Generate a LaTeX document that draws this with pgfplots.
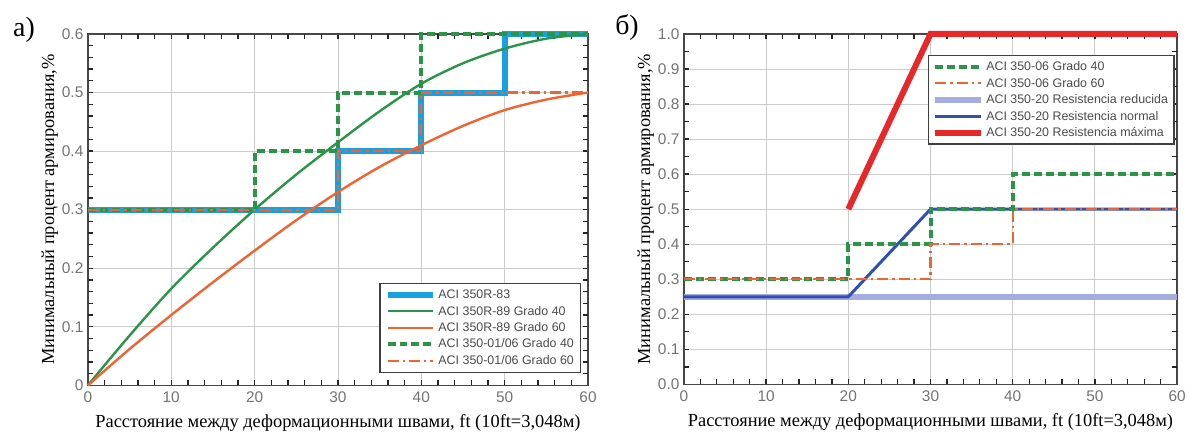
\documentclass[border=0pt]{standalone}
\usepackage{fontspec}
\setmainfont{Liberation Serif}
\newfontfamily\arial{Liberation Sans}
\usepackage{pgfplots}
\pgfplotsset{compat=1.18}
\definecolor{aciblue}{RGB}{25,160,225}
\definecolor{agreen}{RGB}{40,150,70}
\definecolor{aorange}{RGB}{240,100,50}
\definecolor{alav}{RGB}{165,172,225}
\definecolor{anavy}{RGB}{50,80,180}
\definecolor{ared}{RGB}{232,40,40}
\pgfplotsset{
  common/.style={
    scale only axis, clip=false,
    xmin=0, xmax=60,
    xtick={0,10,20,30,40,50,60},
    xticklabels={0,10,20,30,40,50,60},
    extra x ticks={2,4,6,8,12,14,16,18,22,24,26,28,32,34,36,38,42,44,46,48,52,54,56,58},
    extra x tick labels={},
    extra tick style={grid=none, major tick length=5.5bp, tick style={black!85, line width=1.3bp}},
    xmajorgrids, ymajorgrids,
    major grid style={black!20, line width=0.9bp},
    axis line style={black!72, line width=1.6bp},
    tick style={black!85, line width=1.3bp},
    major tick length=5.5bp,
    tick align=inside,
    /pgf/number format/assume math mode=true,
    ticklabel style={font=\arial\fontsize{15.5}{15.5}\selectfont, text=black!55},
    xticklabel style={yshift=-3bp},
    yticklabel style={xshift=-1bp},
    label style={font=\fontsize{18.5}{18.5}\selectfont},
    xlabel={Расстояние между деформационными швами, ft (10ft=3,048м)},
    ylabel={Минимальный процент армирования,\%},
    xlabel style={yshift=-5bp},
    ylabel style={yshift=-3bp},
    legend cell align=left,
    legend image code/.code={\draw[##1] (0bp,0bp) -- (46bp,0bp);},
  },
  stepG/.style={agreen, line width=4bp, dash pattern=on 8bp off 4bp},
  stepO/.style={aorange, line width=2.2bp, dash pattern=on 11bp off 4bp on 2.5bp off 4bp},
}
\begin{document}
\begin{tikzpicture}
\path (0,0) rectangle (1189bp,434bp);
\node[font=\fontsize{28}{28}\selectfont] at (24bp,404bp) {а)};
\node[font=\fontsize{28}{28}\selectfont] at (628bp,406bp) {б)};
% ---------- left ----------
\begin{axis}[common,
  at={(88bp,48bp)}, anchor=south west,
  width=501bp, height=352bp,
  ymin=0, ymax=0.6,
  ytick={0,0.1,0.2,0.3,0.4,0.5,0.6},
  yticklabels={0,0.1,0.2,0.3,0.4,0.5,0.6},
  extra y ticks={0.02,0.04,0.06,0.08,0.12,0.14,0.16,0.18,0.22,0.24,0.26,0.28,0.32,0.34,0.36,0.38,0.42,0.44,0.46,0.48,0.52,0.54,0.56,0.58},
  extra y tick labels={},
  legend style={at={(0.986,0.035)}, anchor=south east,
    draw=black!75, line width=1.3bp, fill=white,
    font=\arial\fontsize{12.5}{12.5}\selectfont, text=black!70,
    row sep=2bp, inner sep=4.5bp},
]
\addplot[aciblue, line width=6bp] coordinates {(0,0.3)(30,0.3)(30,0.4)(40,0.4)(40,0.5)(50,0.5)(50,0.6)(60,0.6)};
\addlegendentry{ACI 350R-83}
\addplot[agreen, line width=2.4bp, smooth] coordinates {(0,0)(5,0.085)(10,0.165)(15,0.235)(20,0.3)(25,0.36)(30,0.415)(35,0.468)(40,0.515)(45,0.55)(50,0.575)(55,0.592)(60,0.6)};
\addlegendentry{ACI 350R-89 Grado 40}
\addplot[aorange, line width=2.4bp, smooth] coordinates {(0,0)(5,0.062)(10,0.12)(15,0.176)(20,0.23)(25,0.282)(30,0.33)(35,0.373)(40,0.41)(45,0.443)(50,0.47)(55,0.488)(60,0.5)};
\addlegendentry{ACI 350R-89 Grado 60}
\addplot[stepG] coordinates {(0,0.3)(20,0.3)(20,0.4)(30,0.4)(30,0.5)(40,0.5)(40,0.6)(60,0.6)};
\addlegendentry{ACI 350-01/06 Grado 40}
\addplot[stepO] coordinates {(0,0.3)(30,0.3)(30,0.4)(40,0.4)(40,0.5)(60,0.5)};
\addlegendentry{ACI 350-01/06 Grado 60}
\end{axis}
% ---------- right ----------
\begin{axis}[common,
  at={(685bp,49bp)}, anchor=south west,
  width=494bp, height=351bp,
  ymin=0, ymax=1.0,
  ytick={0,0.1,0.2,0.3,0.4,0.5,0.6,0.7,0.8,0.9,1.0},
  yticklabels={0.0,0.1,0.2,0.3,0.4,0.5,0.6,0.7,0.8,0.9,1.0},
  extra y ticks={0.05,0.15,0.25,0.35,0.45,0.55,0.65,0.75,0.85,0.95},
  extra y tick labels={},
  legend style={at={(0.995,0.94)}, anchor=north east,
    draw=black!75, line width=1.3bp, fill=white,
    font=\arial\fontsize{12.5}{12.5}\selectfont, text=black!70,
    row sep=2bp, inner sep=4bp},
]
\addlegendimage{stepG}
\addlegendentry{ACI 350-06 Grado 40}
\addlegendimage{stepO}
\addlegendentry{ACI 350-06 Grado 60}
\addlegendimage{alav, line width=6bp}
\addlegendentry{ACI 350-20 Resistencia reducida}
\addlegendimage{anavy, line width=3bp}
\addlegendentry{ACI 350-20 Resistencia normal}
\addlegendimage{ared, line width=6bp}
\addlegendentry{ACI 350-20 Resistencia máxima}
\addplot[forget plot, alav, line width=6bp] coordinates {(0,0.25)(60,0.25)};
\addplot[forget plot, anavy, line width=3bp] coordinates {(0,0.25)(20,0.25)(30,0.5)(60,0.5)};
\addplot[forget plot, stepG] coordinates {(0,0.3)(20,0.3)(20,0.4)(30,0.4)(30,0.5)(40,0.5)(40,0.6)(60,0.6)};
\addplot[forget plot, stepO] coordinates {(0,0.3)(30,0.3)(30,0.4)(40,0.4)(40,0.5)(60,0.5)};
\addplot[forget plot, ared, line width=6bp] coordinates {(20,0.5)(30,1.0)(60,1.0)};
\end{axis}
\end{tikzpicture}
\end{document}
